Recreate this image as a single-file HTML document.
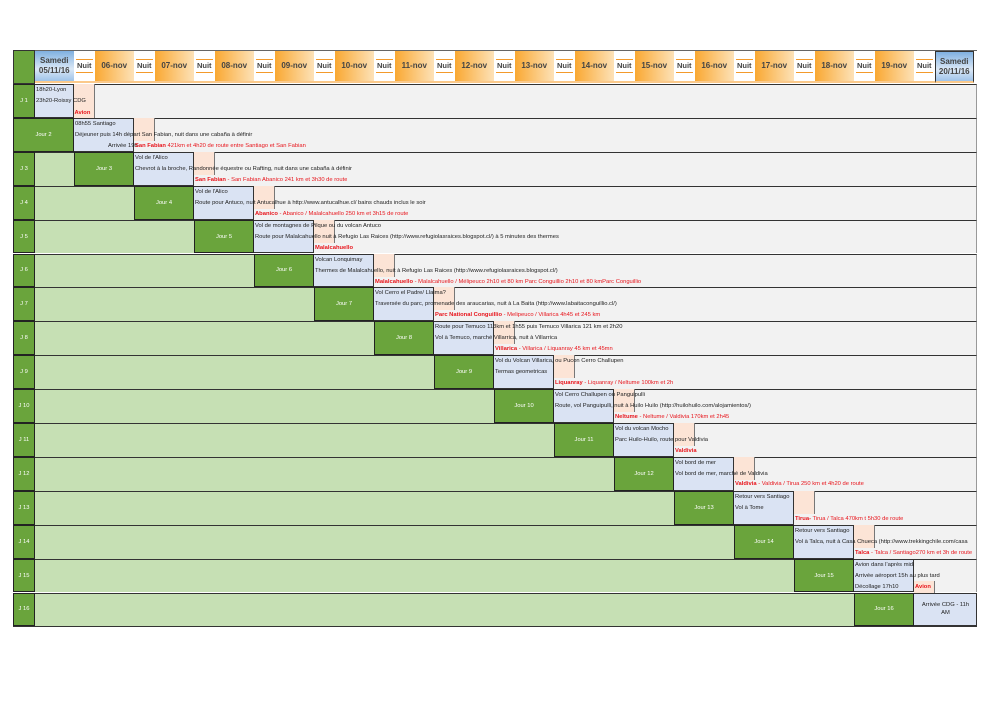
<!DOCTYPE html>
<html><head><meta charset="utf-8">
<style>
body{margin:0;width:992px;height:701px;background:#fff;position:relative;overflow:hidden;font-family:"Liberation Sans",sans-serif;}
.a{position:absolute;box-sizing:border-box;}
.t{position:absolute;white-space:nowrap;font-size:5.8px;color:#222;line-height:7px;}
.h{font-size:8px;font-weight:bold;color:#444;text-align:center;display:flex;align-items:center;justify-content:center;line-height:10px;}
.red{color:#e8141b;}
</style></head><body>
<div id="chart"></div>
<script>
const days=["Samedi 05/11/16","06-nov","07-nov","08-nov","09-nov","10-nov","11-nov","12-nov","13-nov","14-nov","15-nov","16-nov","17-nov","18-nov","19-nov","Samedi 20/11/16"];
const line1=["18h20-Lyon","08h55 Santiago","Vol de l'Alico","Vol de l'Alico","Vol de montagnes de Pilque ou du volcan Antuco","Volcan Lonquimay","Vol Cerro el Padre/ Llaima?","Route pour Temuco 113km et 1h55 puis Temuco Villarica 121 km et 2h20","Vol du Volcan Villarica, ou Pucon Cerro Challupen","Vol Cerro Challupen ou Panguipulli","Vol du volcan Mocho","Vol bord de mer","Retour  vers Santiago","Retour vers Santiago","Avion dans l'après midi",""];
const line2=["23h20-Roissy CDG","Déjeuner puis 14h départ San Fabian, nuit dans une cabaña à définir","Chevrot à la broche, Randonnée équestre ou Rafting, nuit dans une cabaña à définir","Route pour Antuco, nuit Antucalhue à http://www.antucalhue.cl/ bains chauds inclus le soir","Route pour Malalcahuello nuit à Refugio Las Raices (http://www.refugiolasraices.blogspot.cl/) à 5 minutes des thermes","Thermes de Malalcahuello, nuit à Refugio Las Raices (http://www.refugiolasraices.blogspot.cl/)","Traversée du parc, promenade des araucarias, nuit à La Baita (http://www.labaitaconguillio.cl/)","Vol à Temuco, marché Villarrica, nuit à Villarrica","Termas geometricas","Route, vol Panguipulli, nuit à Huilo Huilo (http://huilohuilo.com/alojamientos/)","Parc Huilo-Huilo, route pour Valdivia","Vol bord de mer, marché de Valdivia","Vol à Tome","Vol à Talca, nuit à Casa Chueca (http://www.trekkingchile.com/casa","Arrivée aéroport 15h au plus tard",""];
const redBold=["","San Fabian","San Fabian","Abanico","Malalcahuello","Malalcahuello","Parc National Conguillio","Villarica","Liquanray","Neltume","Valdivia","Valdivia","Tirua-","Talca","",""];
const redRest=["",""," 421km et 4h20 de route entre Santiago et San Fabian".slice(0,0)+"","","","","","","","","","","","","",""];
const redText=[""," 421km et 4h20 de route entre Santiago et San Fabian"," - San Fabian Abanico 241 km et 3h30 de route"," - Abanico / Malalcahuello 250 km et 3h15 de route",""," - Malalcahuello / Mélipeuco 2h10 et 80 km Parc Conguillio 2h10 et 80 kmParc Conguillio"," - Melipeuco / Villarica 4h45 et 245 km"," - Villarica / Liquanray 45 km et 45mn"," - Liquanray / Neltume 100km et 2h"," - Neltume / Valdivia 170km et 2h45",""," - Valdivia / Tirua 250 km et 4h20 de route"," Tirua / Talca 470km t 5h30 de route"," - Talca / Santiago270 km et 3h de route","",""];
const C=document.getElementById('chart');
const L=13,R=977,TOP=50,HB=84,RH=33.9;
function box(x,y,w,h,bg,name,extra){const d=document.createElement('div');d.className='a';d.style.cssText=`left:${x}px;top:${y}px;width:${w}px;height:${h}px;background:${bg};`+(extra||'');C.appendChild(d);return d;}
function txt(x,y,s,cls,name){const d=document.createElement('div');d.className='t '+(cls||'');d.style.left=x+'px';d.style.top=y+'px';d.innerHTML=s;C.appendChild(d);return d;}
const dayX=k=>35+60*k, nuitX=k=>73.5+60*k;
// header
box(L,TOP,R-L,HB-TOP,'#fff','header-row','border-top:1.5px solid #666;');
box(L,TOP,22,HB-TOP,'#6aa43c','header-corner','border:1px solid #333;');
days.forEach((d,k)=>{
  const last=k===days.length-1;
  const x=dayX(k), w=(k===0||last)?38.5:38.5;
  const bg=(k===0||last)?'linear-gradient(#7fb0e0,#dbe8f6 60%,#9fc3ea)':'linear-gradient(90deg,#f9a832,#fde2b8)';
  const c=box(x,TOP+1,w,HB-TOP-2,bg,'day-header-'+k,(last?'border:1px solid #333;':'')+'border-bottom:2px solid #fbc98a;');
  c.classList.add('h');c.innerHTML=d.replace(' ','<br>');
  if(!last){const n=box(nuitX(k),TOP+1,21.5,HB-TOP-2,'#fff','night-header-'+k,'border-bottom:2px solid #fbc98a;');
    n.classList.add('h');n.innerHTML='<span style="border-top:1.5px solid #f39a2c;border-bottom:1.5px solid #f39a2c;padding:1px 1px;font-size:7.5px">Nuit</span>';}
});
// rows
for(let i=1;i<=16;i++){
  const y=HB+(i-1)*RH, idx=i-1;
  box(L,y,R-L,RH,'#f2f2f2','row-'+i+'-background','border-top:1px solid #333;border-right:1.5px solid #999;');
  let B, dark0, blueW=60;
  if(i===1){B=35;blueW=38.5;}
  else if(i===16){B=914;blueW=63;}
  else B=74+60*(i-2);
  if(i>=3){ box(35,y,B-60-35,RH,'#c6e0b4','row-'+i+'-elapsed','border-top:1px solid #333;'); }
  if(i===2){ const j=box(L,y,B-L,RH,'#6aa43c','row-2-day-label','border:1px solid #222;color:#fff;font-size:5.8px;display:flex;align-items:center;justify-content:center;');j.textContent='Jour 2'; }
  else{
    const c0=box(L,y,22,RH,'#6aa43c','row-'+i+'-label','border:1px solid #222;color:#fff;font-size:5.8px;display:flex;align-items:center;justify-content:center;');c0.textContent='J '+i;
    if(i>=3){const j=box(B-60,y,60,RH,'#6aa43c','row-'+i+'-day-label','border:1px solid #222;color:#fff;font-size:5.8px;display:flex;align-items:center;justify-content:center;');j.textContent='Jour '+i;}
  }
  box(B,y,blueW,RH,'#dae3f3','row-'+i+'-day-cell','border:1px solid #333;border-left:none;');
  const P=B+blueW;
  if(i<=14){ box(P,y,21,i===1?RH:23,'#fce4d6','row-'+i+'-night-cell','border-right:1.5px solid #777;'); }
  if(i===1) txt(P+1,y+26,'<b>Avion</b>','red','row-1-flight');
  if(i===15){ box(P,y+22,21,12,'#fce4d6','row-15-night-cell','border-right:1.5px solid #777;'); txt(P+1,y+25,'<b>Avion</b>','red','row-15-flight'); }
  if(line1[idx]) txt(B+1,y+3,line1[idx],'','row-'+i+'-line-1');
  if(line2[idx]) txt(B+1,y+14,line2[idx],'','row-'+i+'-line-2');
  if(i===2) txt(B+34,y+25,'Arrivée 19h','','row-2-arrival');
  if(i===15) txt(B+1,y+25,'Décollage 17h10','','row-15-line-3');
  if(i===16){const a=box(B,y,blueW,RH,'transparent','row-16-arrival','font-size:5.8px;color:#222;display:flex;align-items:center;justify-content:center;text-align:center;line-height:8px;');a.innerHTML='Arrivée CDG - 11h<br>AM';}
  if(redBold[idx]){ const t=txt(P+1,y+(i===12?24:25),'<b>'+redBold[idx]+'</b>'+redText[idx],'red','row-'+i+'-route');
    t.style.maxWidth=(R-P-2)+'px';t.style.overflow='hidden'; }
}
box(L,HB+16*RH,R-L,1,'#333','table-bottom-border');
</script>
</body></html>
